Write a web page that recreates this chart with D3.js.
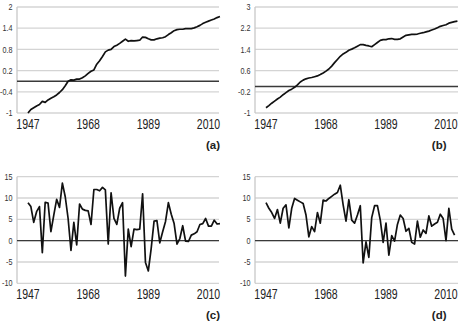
<!DOCTYPE html>
<meta charset="utf-8" />
<script src="https://d3js.org/d3.v7.min.js"></script>
<style>
  body { margin: 0; background: #fff; }
  text { font-family: "Liberation Sans", Arial, sans-serif; fill: #222; }
</style>
<body>
<div id="my_dataviz"></div>
<script>
// years on the category axis
var years = d3.range(1947, 2015);
var xTickYears = [1947, 1968, 1989, 2010];

// (a) and (b): cumulative series
var seriesA = [-1.0, -0.9, -0.85, -0.8, -0.76, -0.67, -0.7, -0.63, -0.58, -0.54,
  -0.49, -0.42, -0.34, -0.23, -0.1, -0.06, -0.07, -0.04, -0.04, 0.0,
  0.05, 0.12, 0.18, 0.22, 0.38, 0.48, 0.6, 0.73, 0.78, 0.8,
  0.88, 0.92, 0.97, 1.03, 1.09, 1.03, 1.05, 1.04, 1.05, 1.06,
  1.15, 1.14, 1.1, 1.07, 1.07, 1.1, 1.12, 1.13, 1.16, 1.22,
  1.27, 1.33, 1.36, 1.37, 1.37, 1.39, 1.39, 1.39, 1.41, 1.44,
  1.48, 1.53, 1.57, 1.6, 1.63, 1.66, 1.7, 1.73];
var seriesB = [-0.8, -0.72, -0.63, -0.55, -0.47, -0.4, -0.31, -0.23, -0.15, -0.1,
  -0.03, 0.06, 0.17, 0.24, 0.29, 0.32, 0.34, 0.37, 0.4, 0.45,
  0.51, 0.58, 0.66, 0.77, 0.9, 1.02, 1.14, 1.23, 1.29, 1.37,
  1.41, 1.46, 1.52, 1.58, 1.58, 1.55, 1.53, 1.5, 1.58, 1.66,
  1.74, 1.77, 1.77, 1.8, 1.81, 1.78, 1.78, 1.8, 1.87, 1.93,
  1.95, 1.97, 1.97, 1.98, 2.01, 2.03, 2.06, 2.09, 2.13, 2.17,
  2.22, 2.27, 2.3, 2.33, 2.39, 2.42, 2.45, 2.47];

// (c) and (d): yearly changes
var seriesC = [8.9, 8.0, 4.3, 6.8, 8.0, -2.8, 9.0, 8.8, 2.1, 6.0,
  9.7, 7.8, 13.5, 10.3, 5.2, -2.3, 4.3, -1.0, 8.6, 7.4,
  7.1, 7.0, 3.8, 12.0, 12.0, 11.7, 12.5, 11.9, -0.8, 11.2,
  5.2, 3.8, 7.6, 8.9, -8.3, 2.7, -1.4, 2.7, 2.6, 2.7,
  11.0, -5.1, -7.1, -1.8, 4.6, 4.7, -0.5, 2.1, 4.5, 8.9,
  6.2, 4.0, -0.8, 0.5, 3.5, -0.1, -0.2, 1.3, 1.6, 2.1,
  3.8, 4.0, 5.2, 3.4, 3.4, 4.8, 3.9, 4.0];
var seriesD = [8.9, 7.6, 6.6, 5.2, 7.3, 4.1, 7.6, 8.4, 3.0, 7.6,
  9.9, 9.5, 9.1, 8.7, 6.0, 0.9, 3.3, 2.1, 6.6, 4.1,
  9.5, 9.3, 9.9, 10.4, 10.9, 11.3, 13.0, 8.4, 4.6, 9.6,
  4.8, 4.1, 6.0, 8.2, -5.2, -0.3, -3.9, 5.4, 8.2, 8.2,
  4.8, -0.4, 4.1, -3.4, 1.2, -0.1, 3.8, 6.0, 5.2, 2.2,
  2.9, -0.4, -0.8, 4.6, 0.8, 2.5, 1.7, 5.8, 3.4, 3.9,
  4.3, 6.2, 5.2, 0.0, 7.6, 2.7, 1.3];

// y ticks for each panel
var yTicksA = [-1, -0.4, 0.2, 0.8, 1.4, 2];
var yTicksB = [-1, -0.2, 0.6, 1.4, 2.2, 3];
var yTicksCD = [-10, -5, 0, 5, 10, 15];

var svg = d3.select("#my_dataviz")
  .append("svg")
  .attr("width", 458)
  .attr("height", 325);

var panels = [
  { name: "(a)", values: seriesA, ticks: yTicksA, base: -0.1, left: 17, right: 219, top: 7, bottom: 113, x0: 28, x1: 208.5 },
  { name: "(b)", values: seriesB, ticks: yTicksB, base: 0, left: 255, right: 460, top: 7, bottom: 113, x0: 266, x1: 446 },
  { name: "(c)", values: seriesC, ticks: yTicksCD, base: 0, left: 17, right: 219, top: 176.7, bottom: 283.3, x0: 28, x1: 208.5 },
  { name: "(d)", values: seriesD, ticks: yTicksCD, base: 0, left: 255, right: 460, top: 176.7, bottom: 283.3, x0: 266, x1: 446 }
];

panels.forEach(function (p) {
  var g = svg.append("g");

  var x = d3.scaleLinear()
    .domain([xTickYears[0], xTickYears[xTickYears.length - 1]])
    .range([p.x0, p.x1]);
  var y = d3.scaleLinear()
    .domain([p.ticks[0], p.ticks[p.ticks.length - 1]])
    .range([p.bottom, p.top]);

  // gridlines
  g.selectAll("line.grid")
    .data(p.ticks)
    .enter()
    .append("line")
    .attr("x1", p.left)
    .attr("x2", p.right)
    .attr("y1", function (d) { return y(d); })
    .attr("y2", function (d) { return y(d); })
    .attr("stroke", "#d4d4d4")
    .attr("stroke-width", 1.3);

  // left axis line
  g.append("line")
    .attr("x1", p.left).attr("x2", p.left)
    .attr("y1", p.top).attr("y2", p.bottom)
    .attr("stroke", "#c8c8c8")
    .attr("stroke-width", 1.3);

  // dark horizontal axis
  g.append("line")
    .attr("x1", p.left).attr("x2", p.right)
    .attr("y1", y(p.base)).attr("y2", y(p.base))
    .attr("stroke", "#3a3a3a")
    .attr("stroke-width", 1.4);

  // y tick labels (narrow, like the original)
  g.selectAll("text.ylab")
    .data(p.ticks)
    .enter()
    .append("text")
    .attr("transform", function (d) {
      return "translate(" + (p.left - 4.5) + "," + y(d) + ") scale(0.8,1)";
    })
    .attr("dy", "0.35em")
    .attr("text-anchor", "end")
    .style("font-size", "9px")
    .style("fill", "#333")
    .text(function (d) { return d; });

  // x tick labels
  g.selectAll("text.xlab")
    .data(xTickYears)
    .enter()
    .append("text")
    .attr("transform", function (d) {
      return "translate(" + x(d) + "," + (p.bottom + 15.5) + ") scale(0.75,1)";
    })
    .attr("text-anchor", "middle")
    .style("font-size", "14px")
    .text(function (d) { return d; });

  // the series
  var line = d3.line()
    .x(function (d, i) { return x(years[i]); })
    .y(function (d) { return y(d); });

  g.append("path")
    .datum(p.values)
    .attr("fill", "none")
    .attr("stroke", "#111")
    .attr("stroke-width", 1.7)
    .attr("stroke-linejoin", "round")
    .attr("d", line);

  // panel letter
  g.append("text")
    .attr("x", p.left < 100 ? 220 : 446.5)
    .attr("y", p.bottom + 35.5)
    .attr("text-anchor", "end")
    .style("font-size", "11.5px")
    .style("font-weight", "bold")
    .text(p.name);
});
</script>
</body>
